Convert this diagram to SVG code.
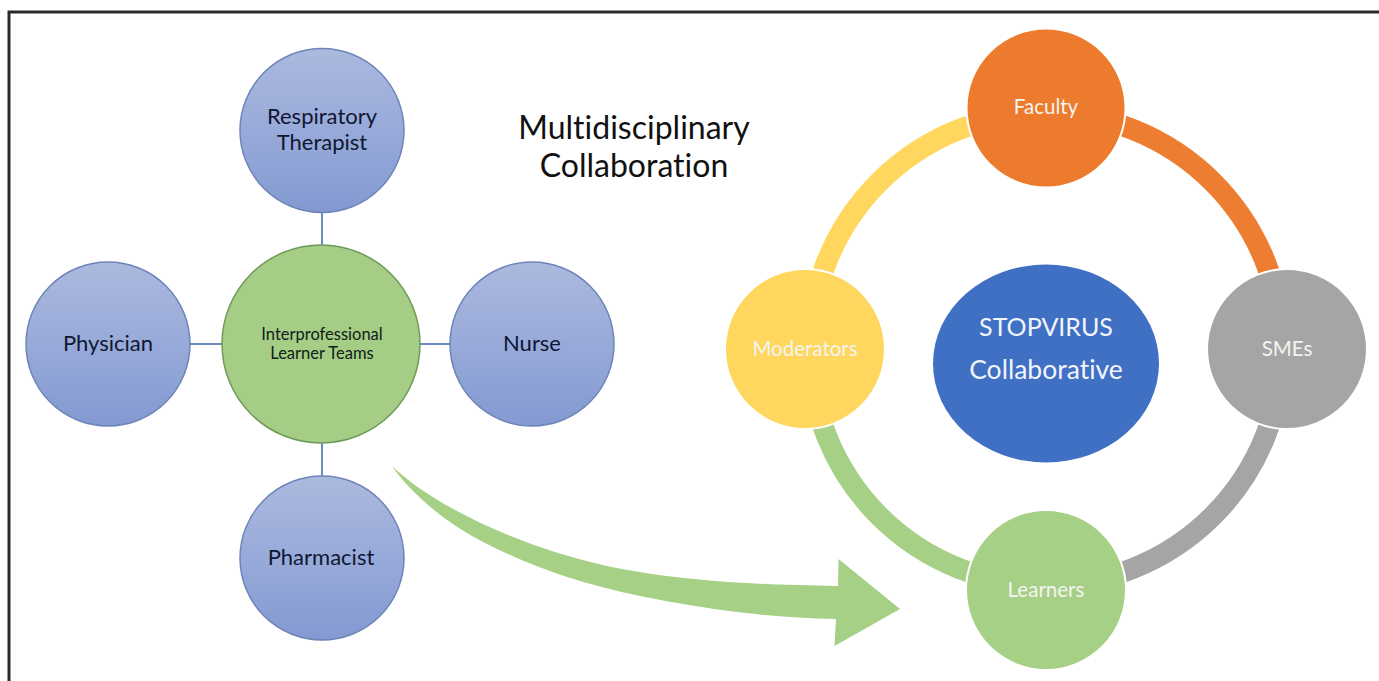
<svg xmlns="http://www.w3.org/2000/svg" width="1379" height="681" viewBox="0 0 1379 681">
<defs>
<linearGradient id="blueGrad" x1="0" y1="0" x2="0" y2="1">
<stop offset="0" stop-color="#abb9de"/>
<stop offset="0.5" stop-color="#98aad9"/>
<stop offset="1" stop-color="#8399d1"/>
</linearGradient>
</defs>
<style>
text{font-family:Lato,"Open Sans","Liberation Sans",sans-serif;text-anchor:middle;font-variant-ligatures:none}
.role{fill:url(#blueGrad);stroke:#6f84b8;stroke-width:1.5}
.role-t{font-size:22px;fill:#0f1733}
.ring-t{font-size:20.500px;fill:#f4f4f0}
.spoke{stroke:#6a8bbd;stroke-width:2;fill:none}
.arc{fill:none;stroke-width:21}
.rn{stroke:#fff;stroke-width:2}
</style>
<rect width="1379" height="681" fill="#fff"/>
<path d="M1379 12H9V681" fill="none" stroke="#2a2a2a" stroke-width="3"/>
<g id="connectors">
<path class="spoke" d="M322 212V245M322 443V476M190 344H222M420 344H450"/>
<path class="arc" stroke="#ed7d31" d="M1046 113A236 236 0 0 1 1282 349"/>
<path class="arc" stroke="#a5a5a5" d="M1282 349A236 236 0 0 1 1046 585"/>
<path class="arc" stroke="#a5d085" d="M1046 585A236 236 0 0 1 810 349"/>
<path class="arc" stroke="#ffd75f" d="M810 349A236 236 0 0 1 1046 113"/>
<path id="big-arrow" fill="#a5d085" d="M392 466C425 498 490 532 558 553C620 572 690 584 838 586L838.500 559L900 609L834.500 646L836 619C760 618 690 606 640 596C560 580 500 553 462 530C430 510 405 485 392 466Z"/>
</g>
<g id="respiratory-therapist"><circle class="role" cx="322" cy="130.500" r="82"/><text class="role-t" x="322" y="124">Respiratory</text><text class="role-t" x="322" y="150">Therapist</text></g>
<g id="physician"><circle class="role" cx="108" cy="344" r="82"/><text class="role-t" x="108" y="351">Physician</text></g>
<g id="nurse"><circle class="role" cx="532" cy="344" r="82"/><text class="role-t" x="532" y="351">Nurse</text></g>
<g id="pharmacist"><circle class="role" cx="322" cy="558" r="82"/><text class="role-t" x="321" y="565">Pharmacist</text></g>
<g id="learner-teams"><circle cx="321" cy="344" r="99" fill="#a5cd85" stroke="#6f9a58" stroke-width="1.500"/><text x="322" y="340" font-size="16.500px" fill="#10201a">Interprofessional</text><text x="322" y="359" font-size="16.500px" fill="#10201a">Learner Teams</text></g>
<g id="title"><text x="634" y="139" font-size="32px" fill="#111">Multidisciplinary</text><text x="634" y="177" font-size="32px" fill="#111">Collaboration</text></g>
<g id="faculty"><circle class="rn" cx="1046" cy="108" r="79.500" fill="#ed7b2e"/><text class="ring-t" x="1046" y="114">Faculty</text></g>
<g id="smes"><circle class="rn" cx="1287" cy="349" r="80" fill="#a5a5a5"/><text class="ring-t" x="1287" y="356">SMEs</text></g>
<g id="learners"><circle class="rn" cx="1046" cy="590" r="80" fill="#a5d085"/><text class="ring-t" x="1046" y="597">Learners</text></g>
<g id="moderators"><circle class="rn" cx="805" cy="349" r="80" fill="#ffd75f"/><text class="ring-t" x="805" y="356">Moderators</text></g>
<g id="stopvirus"><ellipse cx="1046" cy="363.500" rx="113" ry="99" fill="#4070c4"/><text x="1046" y="336" font-size="25px" fill="#f2f5fb">STOPVIRUS</text><text x="1046" y="379" font-size="26.500px" fill="#f2f5fb">Collaborative</text></g>
</svg>
